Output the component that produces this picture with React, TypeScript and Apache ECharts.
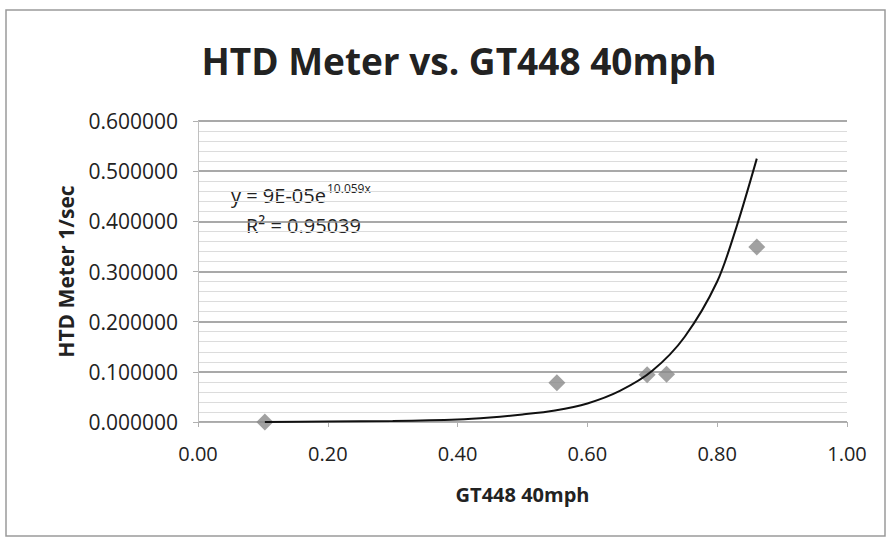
import React, { useEffect, useRef } from "react";
import * as echarts from "echarts";

const pointsX = [0.103, 0.553, 0.692, 0.722, 0.861];
const pointsY = [0.0, 0.078, 0.094, 0.095, 0.349];

const trendX = [0.103, 0.2, 0.3, 0.4, 0.45, 0.5, 0.55, 0.6, 0.65, 0.7, 0.75, 0.8, 0.83, 0.861];
const trendY = [0.0, 0.001, 0.002, 0.005, 0.009, 0.015, 0.023, 0.037, 0.062, 0.102, 0.17, 0.28, 0.39, 0.525];

const titleText = "HTD Meter vs. GT448 40mph";
const xName = "GT448 40mph";
const yName = "HTD Meter 1/sec";
const eqMain = "y = 9E-05e";
const eqSup = "10.059x";
const r2Text = "R² = 0.95039";

export default function App() {
  const ref = useRef<HTMLDivElement>(null);
  useEffect(() => {
    document.body.style.margin = "0";
    const chart = echarts.init(ref.current!, null, { renderer: "svg" });
    const font = "'Open Sans', 'Noto Sans', sans-serif";
    chart.setOption({
      animation: false,
      backgroundColor: "#ffffff",
      textStyle: { fontFamily: font },
      title: {
        text: titleText,
        left: 454,
        textAlign: "center",
        top: 37,
        textStyle: { fontSize: 37, fontWeight: "bold", color: "#222222", fontFamily: font },
      },
      grid: { left: 198, right: 44, top: 121, bottom: 118 },
      xAxis: {
        type: "value",
        min: 0,
        max: 1,
        interval: 0.2,
        name: xName,
        nameLocation: "middle",
        nameGap: 62,
        nameTextStyle: { fontSize: 20, fontWeight: "bold", color: "#222222" },
        axisLine: { show: true, onZero: false, lineStyle: { color: "#b0b0b0", width: 1 } },
        axisTick: { show: true, length: 5, lineStyle: { color: "#b0b0b0" } },
        axisLabel: {
          fontSize: 20,
          color: "#222222",
          margin: 21,
          formatter: (v: number) => v.toFixed(2),
        },
        splitLine: { show: false },
      },
      yAxis: {
        type: "value",
        min: 0,
        max: 0.6,
        interval: 0.1,
        name: yName,
        nameLocation: "middle",
        nameGap: 122,
        nameRotate: 90,
        nameTextStyle: { fontSize: 21, fontWeight: "bold", color: "#222222" },
        axisLine: { show: true, lineStyle: { color: "#c0c0c0", width: 1 } },
        axisTick: { show: true, length: 5, lineStyle: { color: "#b0b0b0" } },
        axisLabel: {
          fontSize: 21,
          color: "#222222",
          margin: 20,
          formatter: (v: number) => v.toFixed(6),
        },
        splitLine: { show: true, lineStyle: { color: "#8c8c8c", width: 1.5 } },
        minorTick: { show: false, splitNumber: 5 },
        minorSplitLine: { show: true, lineStyle: { color: "#dcdcdc", width: 1 } },
      },
      graphic: [
        {
          type: "rect",
          shape: { x: 6, y: 10, width: 879, height: 526 },
          style: { fill: "none", stroke: "#9a9a9a", lineWidth: 1.5 },
          silent: true,
          z: -1,
        },
        {
          type: "text",
          x: 231,
          y: 185,
          style: { text: eqMain, fontSize: 20, fontFamily: font, fill: "#222222" },
        },
        {
          type: "text",
          x: 327,
          y: 182,
          style: { text: eqSup, fontSize: 12, fontFamily: font, fill: "#222222" },
        },
        {
          type: "text",
          x: 246,
          y: 215,
          style: { text: r2Text, fontSize: 20, fontFamily: font, fill: "#222222" },
        },
      ],
      series: [
        {
          type: "scatter",
          symbol: "diamond",
          symbolSize: 17,
          itemStyle: { color: "#8a8a8a" },
          data: pointsX.map((x, i) => [x, pointsY[i]]),
          z: 3,
        },
        {
          type: "line",
          showSymbol: false,
          symbol: "none",
          smooth: 0.3,
          lineStyle: { color: "#111111", width: 2 },
          data: trendX.map((x, i) => [x, trendY[i]]),
          z: 4,
        },
      ],
    });
    return () => chart.dispose();
  }, []);
  return <div ref={ref} style={{ width: 891, height: 540 }} />;
}
